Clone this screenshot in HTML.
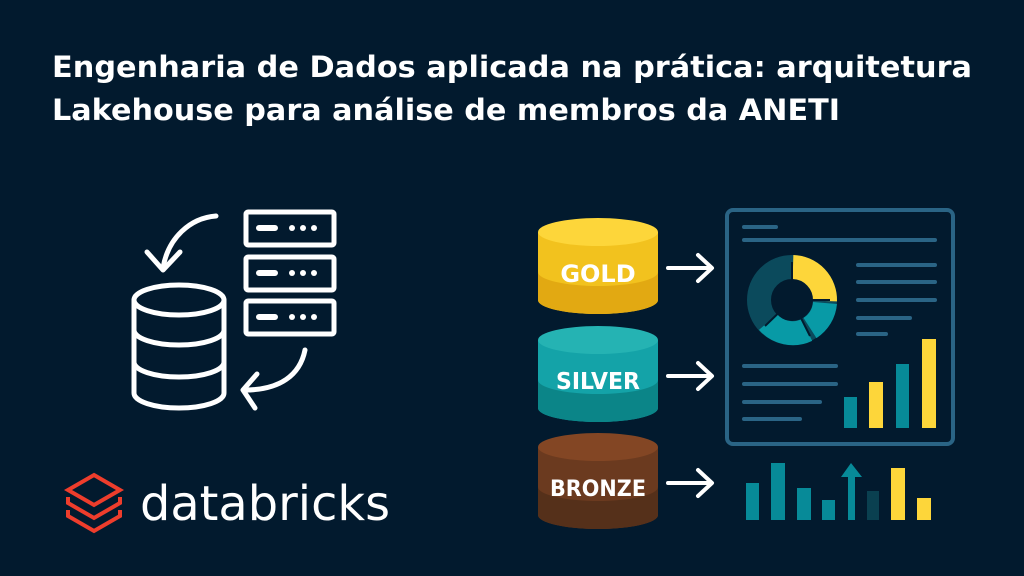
<!DOCTYPE html>
<html><head><meta charset="utf-8"><style>
html,body{margin:0;padding:0;background:#021a2e;}
svg{display:block}
</style></head><body>
<svg width="1024" height="576" viewBox="0 0 1024 576" xmlns="http://www.w3.org/2000/svg">
<rect width="1024" height="576" fill="#021a2e"/>
<g font-family="DejaVu Sans, sans-serif" font-weight="bold" fill="#fff">
<text x="52" y="77" font-size="29" textLength="920" lengthAdjust="spacingAndGlyphs">Engenharia de Dados aplicada na prática: arquitetura</text>
<text x="52" y="120" font-size="29" textLength="788" lengthAdjust="spacingAndGlyphs">Lakehouse para análise de membros da ANETI</text>
</g>
<!-- left icons -->
<g fill="none" stroke="#fff" stroke-width="5" stroke-linecap="round" stroke-linejoin="round">
<path d="M216 216 C190 218 168 238 163 268"/>
<path d="M147 252 L163 270 L180 252"/>
<path d="M305 350 C300 375 280 390 245 390"/>
<path d="M257 374 L243 390 L255 408"/>
<ellipse cx="179" cy="300" rx="45" ry="15"/>
<path d="M134 300 V393 A45 15 0 0 0 224 393 V300"/>
<path d="M134 330 A45 15 0 0 0 224 330"/>
<path d="M134 362 A45 15 0 0 0 224 362"/>
<rect x="246" y="212" width="88" height="33" rx="2"/>
<rect x="246" y="257" width="88" height="33" rx="2"/>
<rect x="246" y="301" width="88" height="33" rx="2"/>
<path d="M259 228 H275 M259 273 H275 M259 317 H275" stroke-width="6"/>
</g>
<g fill="#fff">
<circle cx="292" cy="228" r="3"/><circle cx="303" cy="228" r="3"/><circle cx="314" cy="228" r="3"/>
<circle cx="292" cy="273" r="3"/><circle cx="303" cy="273" r="3"/><circle cx="314" cy="273" r="3"/>
<circle cx="292" cy="317" r="3"/><circle cx="303" cy="317" r="3"/><circle cx="314" cy="317" r="3"/>
</g>
<!-- databricks logo -->
<g fill="none" stroke="#ee3d2c" stroke-width="4" stroke-linejoin="miter">
<path d="M94 475 L120 490 L94 505 L68 490 Z"/>
<path d="M68 497 V503 L94 518 L120 503 V497"/>
<path d="M68 510 V516 L94 531 L120 516 V510"/>
</g>
<text x="140" y="520" font-family="DejaVu Sans, sans-serif" font-size="48" fill="#fff" textLength="250" lengthAdjust="spacingAndGlyphs">databricks</text>
<!-- cylinders -->
<g font-family="DejaVu Sans, sans-serif" font-weight="bold" fill="#fff" text-anchor="middle">
<path d="M538 232 V300 A60 14 0 0 0 658 300 V232 Z" fill="#f2c21e"/>
<path d="M538 272 V300 A60 14 0 0 0 658 300 V272 A60 14 0 0 1 538 272 Z" fill="#e2a912"/>
<ellipse cx="598" cy="232" rx="60" ry="14" fill="#fdd63a"/>
<text x="598" y="282" font-size="24" fill="#fff">GOLD</text>
<path d="M538 340 V408 A60 14 0 0 0 658 408 V340 Z" fill="#14a3a8"/>
<path d="M538 380 V408 A60 14 0 0 0 658 408 V380 A60 14 0 0 1 538 380 Z" fill="#0b8588"/>
<ellipse cx="598" cy="340" rx="60" ry="14" fill="#25b3b3"/>
<text x="598" y="389" font-size="23" fill="#fff" textLength="84" lengthAdjust="spacingAndGlyphs">SILVER</text>
<path d="M538 447 V515 A60 14 0 0 0 658 515 V447 Z" fill="#6b3a1f"/>
<path d="M538 487 V515 A60 14 0 0 0 658 515 V487 A60 14 0 0 1 538 487 Z" fill="#55301a"/>
<ellipse cx="598" cy="447" rx="60" ry="14" fill="#834624"/>
<text x="598" y="496" font-size="22" fill="#fff" textLength="96" lengthAdjust="spacingAndGlyphs">BRONZE</text>
</g>
<g fill="none" stroke="#fff" stroke-width="4" stroke-linecap="round" stroke-linejoin="round">
<path d="M668 268 H711 M698 255 L712 268 L698 281"/>
<path d="M668 376 H711 M698 363 L712 376 L698 389"/>
<path d="M668 483 H711 M698 470 L712 483 L698 496"/>
</g>
<!-- panel -->
<rect x="727" y="210" width="226" height="234" rx="6" fill="none" stroke="#2a6485" stroke-width="4"/>
<g stroke="#2a6485" stroke-width="4" stroke-linecap="round">
<path d="M744 227 H776 M744 240 H935"/>
<path d="M858 265 H935 M858 282 H935 M858 300 H935 M858 318 H910 M858 334 H886"/>
<path d="M744 366 H836 M744 384 H836 M744 402 H820 M744 419 H800"/>
</g>
<!-- donut -->
<g fill="none" stroke-width="24">
<circle cx="792" cy="300" r="33" stroke="#0b4a5c"/>
<path d="M793 267 A33 33 0 0 1 825 301" stroke="#fdd63a"/>
<path d="M825 303 A33 33 0 0 1 810 328" stroke="#089aa6"/>
<path d="M807 330 A33 33 0 0 1 768 322" stroke="#089aa6"/>
</g>
<g stroke="#021a2e" stroke-width="2">
<path d="M792 300 L792 262 M792 300 L830 300 M792 300 L810 336 M792 300 L765 326"/>
</g>
<g>
<rect x="844" y="397" width="13" height="31" fill="#078a98"/>
<rect x="869" y="382" width="14" height="46" fill="#fdd63a"/>
<rect x="896" y="364" width="13" height="64" fill="#078a98"/>
<rect x="922" y="339" width="14" height="89" fill="#fdd63a"/>
<rect x="746" y="483" width="13" height="37" fill="#078a98"/>
<rect x="771" y="463" width="14" height="57" fill="#078a98"/>
<rect x="797" y="488" width="14" height="32" fill="#078a98"/>
<rect x="822" y="500" width="13" height="20" fill="#078a98"/>
<rect x="848" y="475" width="7" height="45" fill="#078a98"/>
<path d="M841 477 L851 463 L862 477 Z" fill="#078a98"/>
<rect x="867" y="491" width="12" height="29" fill="#0a4050"/>
<rect x="891" y="468" width="14" height="52" fill="#fdd63a"/>
<rect x="917" y="498" width="14" height="22" fill="#fdd63a"/>
</g>
</svg>
</body></html>
